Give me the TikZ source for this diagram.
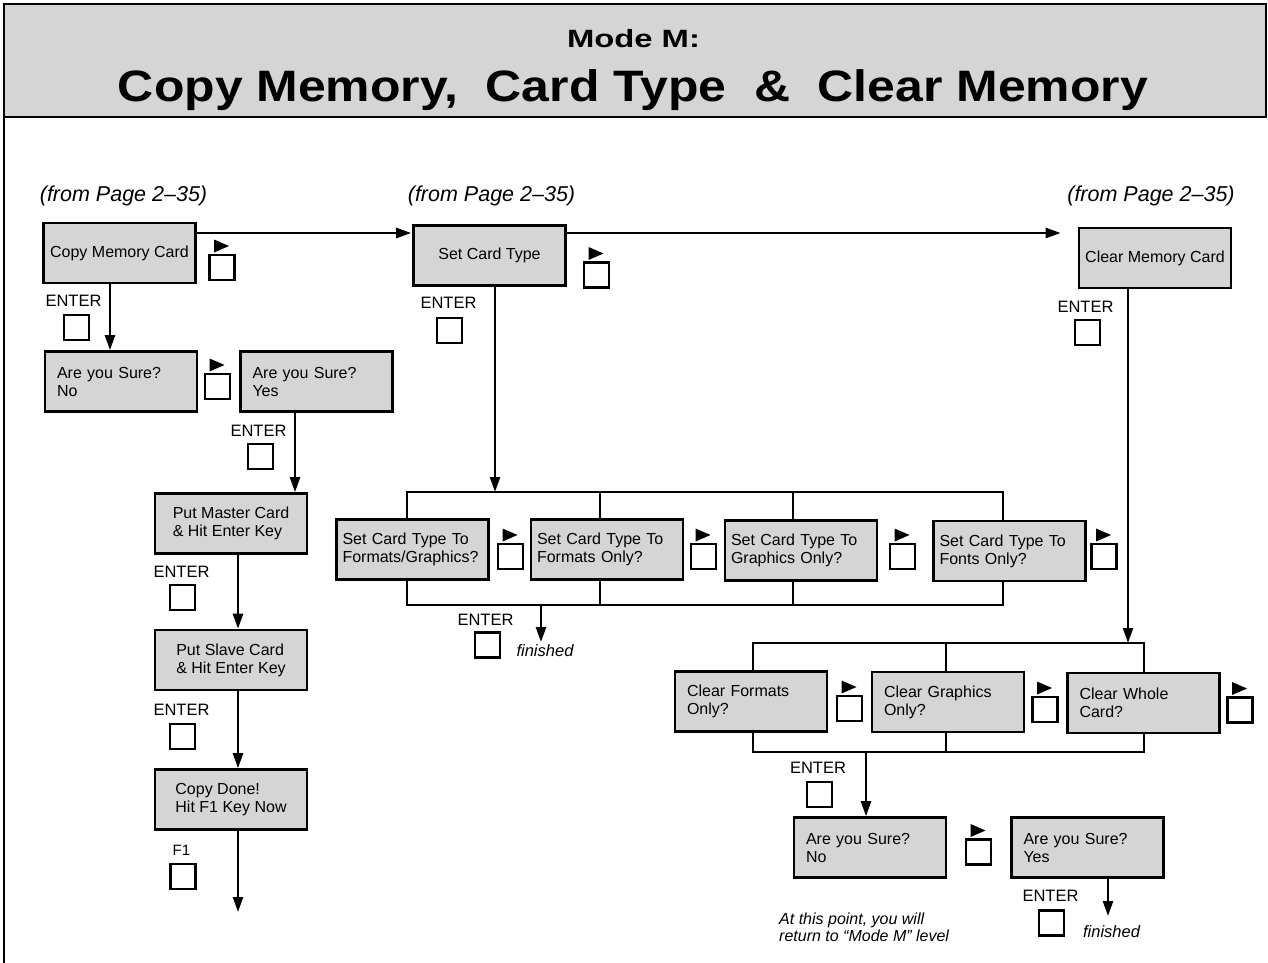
\documentclass[tikz,border=0pt]{standalone}
\usepackage{fontspec}
\setmainfont{Liberation Sans}
\usetikzlibrary{arrows.meta}
\begin{document}
\begin{tikzpicture}[x=1pt,y=-1pt,
  box/.style={draw, line width=2.6pt, fill=gray!33, minimum width=152pt, minimum height=60pt, inner sep=0pt, font=\fontsize{16}{18}\selectfont, align=left},
  lbox/.style={box, text width=128pt, inner xsep=12pt},
  tbox/.style={box, text width=140pt, inner xsep=6pt},
  arr/.style={line width=2.4pt, -{Triangle[length=15pt,width=10pt]}},
  bus/.style={line width=2.4pt, line join=miter},
  lab/.style={font=\fontsize{16.5}{18}\selectfont, inner sep=0pt},
  fin/.style={font=\fontsize{16.5}{18}\selectfont\itshape, inner sep=0pt},
  from/.style={font=\fontsize{21.5}{24}\selectfont\itshape, inner sep=0pt},
  keysym/.pic={\draw[line width=2.2pt] (-12.5,-12.5) rectangle (12.5,12.5); \fill (-8,-28) -- (-8,-15) -- (7,-21.5) -- cycle;},
  sqsym/.pic={\draw[line width=2.2pt] (-12.5,-12.5) rectangle (12.5,12.5);}
]
\useasboundingbox (0,0) rectangle (1268,963);
% title band and frame
\draw[line width=2.4pt, fill=gray!33] (4,4) rectangle (1266,117);
\draw[line width=2.4pt] (4,117) -- (4,963);
\node[anchor=base, inner sep=0pt] (ttla) at (633.5,48) {\resizebox{133pt}{\height}{\fontsize{25}{27}\selectfont\bfseries Mode M:}};
\node[anchor=base, inner sep=0pt] (ttlb) at (633,102) {\resizebox{1030pt}{\height}{\fontsize{44}{50}\selectfont\bfseries Copy Memory,\ \ Card Type\ \ \&\ \ Clear Memory}};

% from labels
\node[from] (fa) at (123.5,196) {(from Page 2--35)};
\node[from] (fb) at (491.5,196) {(from Page 2--35)};
\node[from] (fc) at (1151,196) {(from Page 2--35)};

% boxes
\node[box, align=center] (cmc) at (119.5,253) {Copy Memory Card};
\node[lbox] (no1) at (121,381.5) {Are you Sure?\\No};
\node[lbox] (yes1) at (316.5,381.5) {Are you Sure?\\Yes};
\node[box] (master) at (231,523.5) {Put Master Card\\\& Hit Enter Key};
\node[box] (slave) at (231,660) {Put Slave Card\\\& Hit Enter Key};
\node[box] (done) at (231,799.5) {Copy Done!\\Hit F1 Key Now};
\node[box, align=center] (sct) at (489.5,255.5) {Set Card Type};
\node[box, align=center] (cmem) at (1155,258) {Clear Memory Card};
\node[tbox] (t1) at (412.5,549.5) {Set Card Type To\\Formats/Graphics?};
\node[tbox] (t2) at (607,549.5) {Set Card Type To\\Formats Only?};
\node[tbox] (t3) at (801,550.5) {Set Card Type To\\Graphics Only?};
\node[tbox] (t4) at (1009.5,551) {Set Card Type To\\Fonts Only?};
\node[lbox] (cf) at (751,701.5) {Clear Formats\\Only?};
\node[lbox] (cg) at (948,702) {Clear Graphics\\Only?};
\node[lbox] (cw) at (1143.5,703) {Clear Whole\\Card?};
\node[lbox] (no2) at (870,847.5) {Are you Sure?\\No};
\node[lbox] (yes2) at (1087.5,847.5) {Are you Sure?\\Yes};

% helper coordinates
\coordinate (r) at (0,233);
\coordinate (a1) at (110,0);
\coordinate (a2) at (295,0);
\coordinate (a3) at (238,0);
\coordinate (endA) at (238,912);
\coordinate (j1) at (495,492);
\coordinate (b1tl) at (407,492);
\coordinate (b1tr) at (1003,492);
\coordinate (b1m2) at (600,492);
\coordinate (b1m3) at (793,492);
\coordinate (b1bl) at (407,605);
\coordinate (b1br) at (1003,605);
\coordinate (b1n2) at (600,605);
\coordinate (b1n3) at (793,605);
\coordinate (f1s) at (541,605);
\coordinate (f1) at (541,642);
\coordinate (j2) at (1128,643);
\coordinate (b2tl) at (753,643);
\coordinate (b2tm) at (946,643);
\coordinate (b2tr) at (1144,643);
\coordinate (b2bl) at (753,752);
\coordinate (b2bm) at (946,752);
\coordinate (b2br) at (1144,752);
\coordinate (j3) at (866,752);
\coordinate (f2) at (1108,916);

% connectors
\draw[arr, shorten >=1pt] (cmc.east |- r) -- (sct.west |- r);
\draw[arr, shorten >=17pt] (sct.east |- r) -- (cmem.west |- r);
\draw[arr] (cmc.south -| a1) -- (no1.north -| a1);
\draw[arr] (yes1.south -| a2) -- (master.north -| a2);
\draw[arr] (master.south -| a3) -- (slave.north -| a3);
\draw[arr] (slave.south -| a3) -- (done.north -| a3);
\draw[arr] (done.south -| a3) -- (endA);

\draw[arr] (sct.south -| j1) -- (j1);
\draw[bus] (t1.north -| b1tl) -- (b1tl) -- (b1tr) -- (t4.north -| b1tr);
\draw[bus] (b1m2) -- (t2.north -| b1m2);
\draw[bus] (b1m3) -- (t3.north -| b1m3);
\draw[bus] (t1.south -| b1bl) -- (b1bl) -- (b1br) -- (t4.south -| b1br);
\draw[bus] (b1n2) -- (t2.south -| b1n2);
\draw[bus] (b1n3) -- (t3.south -| b1n3);
\draw[arr] (f1s) -- (f1);

\draw[arr] (cmem.south -| j2) -- (j2);
\draw[bus] (cf.north -| b2tl) -- (b2tl) -- (b2tr) -- (cw.north -| b2tr);
\draw[bus] (b2tm) -- (cg.north -| b2tm);
\draw[bus] (cf.south -| b2bl) -- (b2bl) -- (b2br) -- (cw.south -| b2br);
\draw[bus] (b2bm) -- (cg.south -| b2bm);
\draw[arr] (j3) -- (no2.north -| j3);
\draw[arr] (yes2.south -| f2) -- (f2);

% key symbols
\pic at (222,267.5) {keysym};
\pic at (217.5,386.5) {keysym};
\pic at (596.5,275) {keysym};
\pic at (510.5,556.5) {keysym};
\pic at (703.5,556.5) {keysym};
\pic at (902.5,556.5) {keysym};
\pic at (1104,556.5) {keysym};
\pic at (849.5,708.5) {keysym};
\pic at (1045,709.5) {keysym};
\pic at (1240,710) {keysym};
\pic at (978.5,852) {keysym};

% ENTER labels and squares
\node[lab] (e1) at (73.5,301) {ENTER};
\pic at (76.5,327.5) {sqsym};
\node[lab] (e2) at (448.5,302.5) {ENTER};
\pic at (449.5,330.5) {sqsym};
\node[lab] (e3) at (1085.5,307) {ENTER};
\pic at (1087.5,332.5) {sqsym};
\node[lab] (e4) at (258.5,431) {ENTER};
\pic at (260.5,456.5) {sqsym};
\node[lab] (e5) at (181.5,572) {ENTER};
\pic at (182.5,597.5) {sqsym};
\node[lab] (e6) at (181.5,710) {ENTER};
\pic at (182.5,736.5) {sqsym};
\node[lab, font=\fontsize{15}{17}\selectfont] (e7) at (181.5,850) {F1};
\pic at (183,876.5) {sqsym};
\node[lab] (e8) at (485.5,620) {ENTER};
\pic at (487.5,645) {sqsym};
\node[lab] (e9) at (818,767.5) {ENTER};
\pic at (819.5,794.5) {sqsym};
\node[lab] (e10) at (1050.5,896) {ENTER};
\pic at (1051.5,923) {sqsym};

% finished and note
\node[fin] (fin1) at (545,651) {finished};
\node[fin] (fin2) at (1111.5,932) {finished};
\node[fin, anchor=north west, align=left, font=\fontsize{16}{17}\selectfont\itshape] (note) at (779,913) {At this point, you will\\return to ``Mode M'' level};
\end{tikzpicture}
\end{document}
